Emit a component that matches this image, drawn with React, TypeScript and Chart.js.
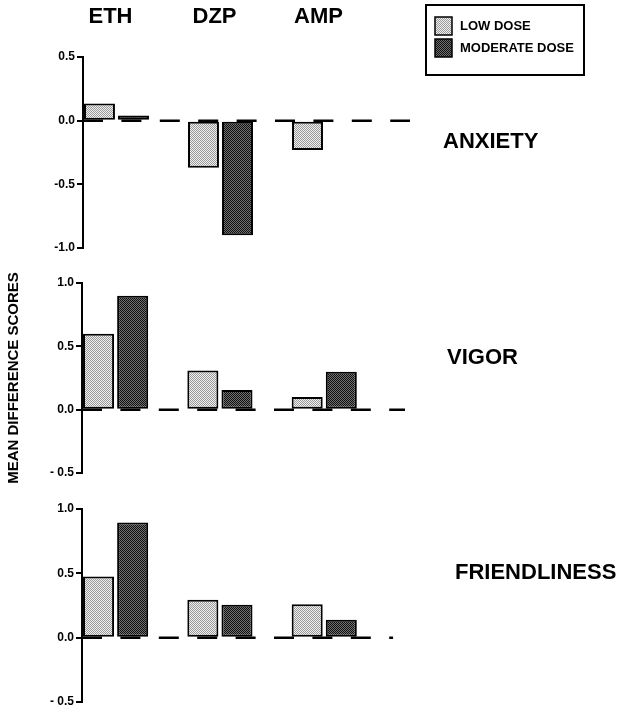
import React, { useEffect, useRef } from "react";
import { Chart, registerables } from "chart.js";

Chart.register(...registerables);

// ---------- data ----------
const drugs = ["ETH", "DZP", "AMP"];
const drugPositions = [0, 1, 2];
const doseNames = ["LOW DOSE", "MODERATE DOSE"];
const measureNames = ["ANXIETY", "VIGOR", "FRIENDLINESS"];
const yTitle = "MEAN DIFFERENCE SCORES";

const anxietyLow = [0.135, -0.37, -0.23];
const anxietyModerate = [0.04, -0.9, 0];
const vigorLow = [0.6, 0.31, 0.1];
const vigorModerate = [0.9, 0.155, 0.3];
const friendlinessLow = [0.475, 0.295, 0.26];
const friendlinessModerate = [0.895, 0.255, 0.14];

const anxietyTicks = [0.5, 0, -0.5, -1];
const vigorTicks = [1, 0.5, 0, -0.5];
const friendlinessTicks = [1, 0.5, 0, -0.5];

// ---------- styling ----------
const FONT = "'Liberation Sans', Arial, Helvetica, sans-serif";
Chart.defaults.font.family = FONT;
Chart.defaults.color = "#000";

const fmtTight = (v: number) => (v < 0 ? "-" : "") + Math.abs(v).toFixed(1);
const fmtSpaced = (v: number) => (v < 0 ? "- " : "") + Math.abs(v).toFixed(1);

function makePattern(base: string, dot: string) {
  const c = document.createElement("canvas");
  c.width = 2;
  c.height = 2;
  const g = c.getContext("2d")!;
  g.fillStyle = base;
  g.fillRect(0, 0, 2, 2);
  g.fillStyle = dot;
  g.fillRect(0, 0, 1, 1);
  g.fillRect(1, 1, 1, 1);
  return g.createPattern(c, "repeat")!;
}

const zeroLinePlugin = {
  id: "zeroLine",
  beforeDatasetsDraw(chart: any, _a: any, opts: any) {
    const { ctx, chartArea, scales } = chart;
    const y = scales.y.getPixelForValue(0);
    const xEnd = scales.x.getPixelForValue(opts.end);
    ctx.save();
    ctx.strokeStyle = "#000";
    ctx.lineWidth = 2.5;
    ctx.setLineDash([20, 18.4]);
    ctx.beginPath();
    ctx.moveTo(chartArea.left, y);
    ctx.lineTo(xEnd, y);
    ctx.stroke();
    ctx.restore();
  },
};

const sideLabelPlugin = {
  id: "sideLabel",
  afterDraw(chart: any, _a: any, opts: any) {
    if (!opts.text) return;
    const { ctx, chartArea, scales } = chart;
    ctx.save();
    ctx.font = `bold 22px ${FONT}`;
    ctx.fillStyle = "#000";
    ctx.textAlign = "left";
    ctx.textBaseline = "middle";
    ctx.fillText(opts.text, chartArea.right + opts.dx, scales.y.getPixelForValue(opts.value));
    ctx.restore();
  },
};

const boxLegendPlugin = {
  id: "boxLegend",
  afterDraw(chart: any, _a: any, opts: any) {
    if (!opts.show) return;
    const { ctx } = chart;
    ctx.save();
    ctx.lineWidth = 2;
    ctx.strokeStyle = "#000";
    ctx.strokeRect(opts.x, opts.y, opts.w, opts.h);
    chart.data.datasets.forEach((ds: any, i: number) => {
      const sy = opts.y + 12 + i * 22;
      ctx.fillStyle = ds.backgroundColor;
      ctx.fillRect(opts.x + 9, sy, 17, 18);
      ctx.lineWidth = 1.5;
      ctx.strokeRect(opts.x + 9, sy, 17, 18);
      ctx.fillStyle = "#000";
      ctx.font = `bold 13px ${FONT}`;
      ctx.textAlign = "left";
      ctx.textBaseline = "middle";
      ctx.fillText(ds.label, opts.x + 34, sy + 9);
    });
    ctx.restore();
  },
};

type PanelDef = {
  low: number[];
  moderate: number[];
  ticks: number[];
  yMin: number;
  yMax: number;
  fmt: (v: number) => string;
  label: string;
  labelDx: number;
  labelValue: number;
  top: number;
  height: number;
  padTop: number;
  padBottom: number;
  axisWidth: number;
  header: boolean;
  legend: boolean;
  yTitle: boolean;
  zeroEnd: number;
};

const panels: PanelDef[] = [
  {
    low: anxietyLow, moderate: anxietyModerate, ticks: anxietyTicks, yMin: -1, yMax: 0.5,
    fmt: fmtTight, label: measureNames[0], labelDx: 33, labelValue: -0.17,
    top: 0, height: 262, padTop: 0, padBottom: 14, axisWidth: 83,
    header: true, legend: true, yTitle: false, zeroEnd: 2.822,
  },
  {
    low: vigorLow, moderate: vigorModerate, ticks: vigorTicks, yMin: -0.5, yMax: 1,
    fmt: fmtSpaced, label: measureNames[1], labelDx: 37, labelValue: 0.41,
    top: 266, height: 226, padTop: 17, padBottom: 19, axisWidth: 82,
    header: false, legend: false, yTitle: true, zeroEnd: 2.774,
  },
  {
    low: friendlinessLow, moderate: friendlinessModerate, ticks: friendlinessTicks, yMin: -0.5, yMax: 1,
    fmt: fmtSpaced, label: measureNames[2], labelDx: 45, labelValue: 0.5,
    top: 494, height: 222, padTop: 15, padBottom: 14, axisWidth: 82,
    header: false, legend: false, yTitle: false, zeroEnd: 2.66,
  },
];

function makeConfig(p: PanelDef, pat: { low: CanvasPattern; mod: CanvasPattern }): any {
  return {
    type: "bar",
    data: {
      datasets: [
        {
          label: doseNames[0],
          data: drugPositions.map((x, i) => ({ x, y: p.low[i] })),
          backgroundColor: pat.low,
        },
        {
          label: doseNames[1],
          data: drugPositions.map((x, i) => ({ x, y: p.moderate[i] })),
          backgroundColor: pat.mod,
        },
      ],
    },
    options: {
      animation: false,
      responsive: false,
      layout: { padding: { top: p.padTop, bottom: p.padBottom, left: 0, right: 216 } },
      datasets: {
        bar: {
          categoryPercentage: 0.654,
          barPercentage: 0.91,
          borderWidth: 2,
          borderColor: "#000",
          borderSkipped: false,
        },
      },
      plugins: {
        legend: { display: false },
        tooltip: { enabled: false },
        zeroLine: { end: p.zeroEnd },
        sideLabel: { text: p.label, dx: p.labelDx, value: p.labelValue },
        boxLegend: { show: p.legend, x: 426, y: 5, w: 158, h: 70 },
      },
      scales: {
        x: {
          type: "linear",
          offset: false,
          position: p.header ? "top" : "bottom",
          min: -0.322,
          max: 2.822,
          afterBuildTicks: (s: any) => {
            s.ticks = drugPositions.map((v) => ({ value: v }));
          },
          afterFit: (s: any) => {
            s.height = p.header ? 57 : 0;
          },
          grid: { display: false, drawTicks: false },
          border: { display: false },
          ticks: {
            display: p.header,
            callback: (v: number) => drugs[v],
            padding: 27,
            labelOffset: -6,
            autoSkip: false,
            maxRotation: 0,
            color: "#000",
            font: { size: 22, weight: "bold", family: FONT },
          },
        },
        y: {
          min: p.yMin,
          max: p.yMax,
          afterBuildTicks: (s: any) => {
            s.ticks = p.ticks.map((v) => ({ value: v }));
          },
          afterFit: (s: any) => {
            s.width = p.axisWidth;
          },
          grid: { drawOnChartArea: false, drawTicks: true, tickLength: 6, color: "#000", lineWidth: 2 },
          border: { display: true, color: "#000", width: 2 },
          ticks: {
            callback: (v: number) => p.fmt(v),
            padding: 2,
            color: "#000",
            font: { size: 12, weight: "bold", family: FONT },
          },
          title: {
            display: p.yTitle,
            text: yTitle,
            color: "#000",
            font: { size: 15, weight: "bold", family: FONT },
            padding: { top: 5, bottom: 0 },
          },
        },
      },
    },
    plugins: [zeroLinePlugin, sideLabelPlugin, boxLegendPlugin],
  };
}

export default function App() {
  const r0 = useRef<HTMLCanvasElement>(null);
  const r1 = useRef<HTMLCanvasElement>(null);
  const r2 = useRef<HTMLCanvasElement>(null);
  const refs = [r0, r1, r2];

  useEffect(() => {
    const pat = {
      low: makePattern("#efefef", "#9a9a9a"),
      mod: makePattern("#707070", "#111111"),
    };
    const charts = panels.map((p, i) => new Chart(refs[i].current!, makeConfig(p, pat)));
    return () => charts.forEach((c) => c.destroy());
  }, []);

  return (
    <div
      style={{
        position: "absolute",
        left: 0,
        top: 0,
        width: 626,
        height: 708,
        overflow: "hidden",
        background: "#fff",
      }}
    >
      {panels.map((p, i) => (
        <canvas
          key={i}
          ref={refs[i]}
          width={626}
          height={p.height}
          style={{ position: "absolute", left: 0, top: p.top, width: 626, height: p.height }}
        />
      ))}
    </div>
  );
}
